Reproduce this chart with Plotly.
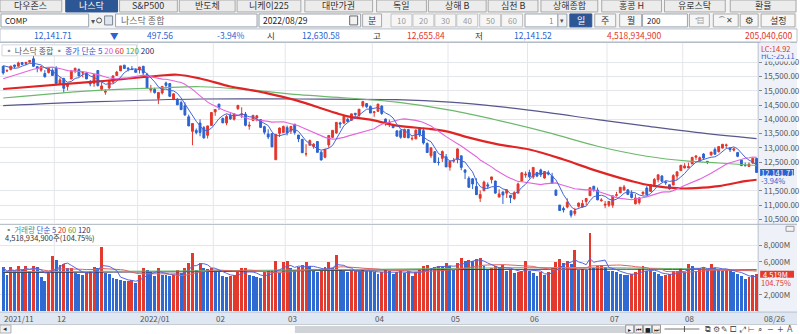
import numpy as np
import pandas as pd
import plotly.graph_objects as go

# ---------------- data ----------------
holidays = ["2021-11-25", "2021-12-24", "2022-01-17", "2022-02-21",
            "2022-04-15", "2022-05-30", "2022-06-20", "2022-07-04"]
sessions = pd.bdate_range("2021-11-10", "2022-08-26")
sessions = sessions[~sessions.isin(pd.to_datetime(holidays))]

open_ = [15856, 15693, 15740, 15900, 15860, 15990, 15954, 16003, 16119, 15844, 15719, 15601, 15636, 15717,
         15797, 15236, 15426, 15150, 15413, 15706, 15746, 15623, 15612, 15297, 15260, 15710, 15050, 14950,
         15100, 15303, 15536, 15696, 15896, 15795, 15759, 15734,
         15733, 15857, 15571, 15024, 15053, 14731, 14922, 15276, 15253, 14711, 14703, 14588, 14474, 14089,
         13579, 13611, 13871, 13711, 13440, 13787,
         14259, 14535, 14033, 13872, 14134, 14003, 14369, 14150, 14186, 13763, 13961, 14049, 13993, 13745,
         13488, 13498, 12587, 13509, 13536,
         13710, 13589, 13832, 13451, 13299, 12790, 13092, 13051, 13224, 12850, 12674, 13104, 13369, 13525,
         13876, 13866, 14002, 13965, 14213, 14134, 14469, 14552, 14451,
         14242, 14281, 14465, 14011, 13866, 13809, 13597, 13605, 13368, 13647, 13319, 13319, 13705, 13605,
         13156, 12724, 12869, 12495, 12634, 12688,
         12326, 12536, 12587, 12724, 12231, 11936, 11920, 11651, 11241, 11501, 11708, 11890, 11840, 11280,
         11461, 11416, 11335, 11225, 11418, 11841, 12053,
         12137, 11983, 12137, 12231, 11947, 12132, 12008, 11522, 11000, 10882, 10932, 10798, 10706, 10955,
         10928, 11127, 11328, 11661, 11524, 11151, 10997,
         10996, 10995, 11338, 11429, 11523, 11532, 11400, 11044, 11088, 11393, 11597, 11478, 11716, 11887,
         12017, 11810, 11712, 11700, 12016, 12204,
         12298, 12301, 12439, 12675, 12530, 12787, 12532, 12759, 12947, 12869, 12993, 13083, 12996, 12922,
         12842, 12573, 12382, 12353, 12467, 12630.58]
high = [15862, 15751, 15870, 15911, 16018, 16003, 16010, 16075, 16212, 15867, 15852, 15724, 15800, 15783,
        15862, 15466, 15455, 15264, 15713, 15807, 15780, 15654, 15662, 15375, 15580, 15718, 15300, 15043,
        15341, 15522, 15696, 15871, 15902, 15821, 15869, 15783,
        15833, 15872, 15626, 15208, 15105, 14954, 15156, 15319, 15273, 14906, 14749, 14659, 14596, 14165,
        13855, 13682, 14002, 13766, 13771, 14240,
        14351, 14535, 14063, 14163, 14217, 14209, 14497, 14421, 14258, 13919, 14143, 14155, 14008, 13778,
        13652, 13520, 13474, 13716, 13782,
        13784, 13760, 13832, 13451, 13316, 13131, 13294, 13169, 13240, 12906, 12955, 13439, 13620, 13894,
        13915, 14130, 14055, 14194, 14222, 14355, 14647, 14571, 14483,
        14278, 14546, 14487, 14030, 13990, 13841, 13613, 13642, 13678, 13653, 13410, 13653, 13711, 13710,
        13191, 13009, 12894, 12667, 12912, 12787,
        12541, 12650, 12979, 12724, 12251, 12005, 11945, 11937, 11514, 11856, 11795, 11984, 11854, 11551,
        11474, 11546, 11336, 11485, 11784, 12131, 12178,
        12238, 12317, 12162, 12273, 12188, 12209, 12128, 11549, 11000, 10947, 11236, 10811, 10905, 11086,
        11181, 11240, 11608, 11662, 11612, 11241, 11140,
        11135, 11322, 11462, 11637, 11706, 11557, 11517, 11382, 11280, 11470, 11664, 11717, 11943, 12060,
        12046, 11837, 11712, 12081, 12171, 12408,
        12466, 12485, 12687, 12734, 12699, 12817, 12540, 12855, 13018, 13047, 13129, 13151, 13025, 13003,
        12843, 12573, 12489, 12491, 12640, 12655.84]
low = [15564, 15666, 15717, 15781, 15853, 15914, 15887, 15992, 15849, 15646, 15662, 15460, 15605, 15533,
       15254, 15209, 14931, 15013, 15405, 15620, 15510, 15470, 15412, 15157, 15139, 15150, 15003, 14861,
       15056, 15268, 15529, 15696, 15765, 15679, 15741, 15644,
       15602, 15471, 15100, 14936, 14901, 14530, 14869, 15114, 14787, 14672, 14501, 14330, 14126, 13766,
       13094, 13474, 13406, 13322, 13330, 13786,
       14122, 14322, 13864, 13792, 13980, 13957, 14335, 14042, 13757, 13637, 13938, 13932, 13709, 13470,
       13305, 13025, 12587, 13381, 13524,
       13438, 13489, 13465, 13203, 12830, 12702, 13086, 12970, 12843, 12555, 12637, 13005, 13342, 13497,
       13692, 13856, 13914, 13952, 14019, 14082, 14410, 14402, 14219,
       14089, 14267, 14158, 13778, 13728, 13689, 13404, 13320, 13343, 13351, 13256, 13300, 13386, 13120,
       12830, 12643, 12485, 12386, 12507, 12331,
       12203, 12478, 12461, 12221, 11909, 11602, 11560, 11359, 11108, 11490, 11562, 11756, 11395, 11269,
       11035, 11249, 11071, 11186, 11411, 11836, 11956,
       11933, 11914, 11976, 11981, 11927, 12039, 11754, 11329, 10792, 10741, 10886, 10565, 10627, 10910,
       10910, 10996, 11328, 11469, 11171, 11120, 10889,
       10936, 10906, 11294, 11414, 11518, 11348, 11232, 11023, 11018, 11335, 11341, 11460, 11685, 11793,
       11799, 11705, 11541, 11700, 11877, 12204,
       12286, 12294, 12438, 12582, 12514, 12579, 12433, 12722, 12764, 12837, 12981, 12990, 12857, 12875,
       12675, 12361, 12352, 12336, 12445, 12141.52]
close = [15623, 15704, 15861, 15854, 15974, 15922, 15994, 16057, 15855, 15775, 15845, 15492, 15783, 15538,
         15254, 15381, 15085, 15225, 15687, 15787, 15517, 15631, 15413, 15238, 15566, 15180, 15170, 14981,
         15341, 15522, 15653, 15871, 15782, 15766, 15742, 15645,
         15833, 15623, 15100, 15081, 14936, 14943, 15153, 15188, 14807, 14894, 14507, 14340, 14154, 13769,
         13855, 13539, 13542, 13353, 13771, 14240,
         14346, 14418, 13879, 14098, 14016, 14194, 14490, 14186, 13791, 13791, 14140, 14124, 13717, 13548,
         13382, 13037, 13474, 13695, 13751,
         13532, 13752, 13538, 13313, 12831, 12796, 13256, 13130, 12844, 12581, 12949, 13437, 13615, 13894,
         13838, 14109, 13923, 14192, 14169, 14355, 14620, 14442, 14221,
         14262, 14533, 14204, 13889, 13897, 13711, 13412, 13372, 13644, 13351, 13332, 13620, 13453, 13175,
         12839, 13005, 12491, 12489, 12872, 12335,
         12536, 12564, 12965, 12318, 12145, 11623, 11738, 11364, 11371, 11805, 11663, 11985, 11418, 11389,
         11355, 11535, 11264, 11435, 11741, 12131, 12081,
         11994, 12317, 12013, 12061, 12175, 12086, 11754, 11340, 10809, 10828, 11099, 10646, 10798, 11069,
         11053, 11232, 11608, 11525, 11182, 11178, 11029,
         11128, 11322, 11362, 11621, 11635, 11373, 11265, 11248, 11251, 11452, 11360, 11713, 11898, 12060,
         11834, 11783, 11563, 12032, 12163, 12391,
         12369, 12349, 12668, 12721, 12658, 12644, 12494, 12855, 12780, 13047, 13128, 13103, 12938, 12965,
         12705, 12382, 12381, 12432, 12639, 12141.71]
# closes of the 20 sessions before the first bar (for the short averages)
prior_close = [14572, 14823, 14897, 15022, 15129, 15122, 15216, 15090, 15227, 15236,
               15236, 15448, 15498, 15596, 15650, 15812, 15940, 15972, 15982, 15887]

# volume, millions of shares
volume = [5300, 4400, 5300, 4800, 5400, 5000, 5400, 4800, 5500, 5300, 4100, 3600, 4700, 6600,
          6200, 5560, 5640, 5160, 5240, 4560, 4480, 4360, 4760, 4880, 5280, 5160, 7680, 4560, 4500, 4040,
          3880, 3760, 3680, 3700, 3760, 3360,
          4400, 5200, 5000, 4700, 4200, 5200, 4400, 4350, 4300, 4400, 5000, 4600, 5200, 5800, 7000, 5000,
          5800, 5200, 5100, 5200,
          4760, 4680, 4280, 4120, 4280, 4360, 4760, 5160, 5200, 4360, 4300, 4080, 4040, 4760, 4840, 4880,
          6080, 4560, 5880,
          6040, 5160, 4960, 5300, 5600, 5900, 5500, 4900, 4700, 5100, 5300, 5900, 5200, 6800, 5000, 4900,
          4700, 4800, 4900, 4800, 5000, 4900, 4800,
          4700, 4500, 4700, 5000, 4800, 4500, 4700, 4900, 4600, 4800, 4300, 4700, 5000, 5400, 5600, 5200,
          5300, 5500, 5400, 5800,
          5500, 5100, 5800, 6400, 6100, 6200, 6000, 6300, 6400, 5500, 5000, 5200, 5400, 5300, 5600, 4800,
          5000, 4600, 4700, 4800, 6100,
          4800, 4600, 4200, 4700, 4400, 4700, 5200, 5900, 6300, 5800, 6000, 5700, 7400, 5000, 5100, 5000,
          9400, 5200, 5500, 5600, 5300,
          4900, 4800, 4700, 4500, 4400, 4400, 4500, 4700, 5100, 5400, 4800, 4900, 4700, 4500, 4300, 4400,
          4500, 4800, 4900, 5200,
          4700, 5700, 5500, 4900, 5200, 5300, 5000, 5700, 5200, 5000, 4800, 5000, 5000, 4700, 4500, 4300,
          3900, 4100, 4314, 4519]
prior_volume = 5600

# long averages as (session index, value)
ma60_pts = [(0, 15061), (25, 15326), (41, 15525), (46, 15560), (52, 15430), (60, 15151), (65, 15036),
            (69, 14932), (77, 14680), (91, 14105), (97, 13990), (104, 13780), (113, 13660), (118, 13554),
            (122, 13396), (131, 13117), (139, 12943), (148, 12594), (157, 12186), (166, 11837),
            (171, 11687), (179, 11582), (183, 11592), (189, 11662), (196, 11837), (199, 11886)]
ma120_pts = [(0, 14747), (25, 15012), (41, 15096), (52, 15141), (65, 15036), (78, 14862), (91, 14747),
             (104, 14600), (118, 14321), (131, 13955), (144, 13536), (157, 13058), (170, 12709),
             (181, 12535), (189, 12472), (199, 12385)]
ma200_pts = [(0, 14478), (25, 14618), (52, 14712), (78, 14712), (104, 14687), (118, 14600), (131, 14443),
             (144, 14234), (157, 13990), (170, 13763), (183, 13546), (199, 13327)]
vma60_pts = [(0, 4800), (50, 4900), (100, 5100), (150, 5300), (199, 5000)]
vma120_pts = [(0, 4700), (50, 4800), (100, 5000), (150, 5100), (199, 5050)]

month_labels = ["2021/11", "12", "2022/01", "02", "03", "04", "05", "06", "07", "08"]
price_ticks = [10500, 11000, 11500, 12500, 13000, 13500, 14000, 14500, 15000, 15500, 16000]
vol_ticks = [2000, 6000, 8000]

# ---------------- styling ----------------
W, H = 800, 334
FONT = "Noto Sans CJK KR"
RED, BLUE = "#e2372c", "#2c63cf"
VRED, VBLUE = "#e43a2e", "#2f6ad2"
AXIS_BG = "#eef1f7"


def px(x):
    return x / W


def py(y):
    return 1 - y / H


shapes, annots = [], []


def rect(x0, y0, x1, y1, fill, line=None, lw=1, layer="below"):
    shapes.append(dict(type="rect", xref="paper", yref="paper", x0=px(x0), x1=px(x1),
                       y0=py(y1), y1=py(y0), fillcolor=fill, layer=layer,
                       line=dict(color=line if line else fill, width=lw if line else 0)))


def hline(x0, x1, y, color, w=1, layer="below"):
    shapes.append(dict(type="line", xref="paper", yref="paper", x0=px(x0), x1=px(x1),
                       y0=py(y), y1=py(y), line=dict(color=color, width=w), layer=layer))


def vline(x, y0, y1, color, w=1, layer="below"):
    shapes.append(dict(type="line", xref="paper", yref="paper", x0=px(x), x1=px(x),
                       y0=py(y0), y1=py(y1), line=dict(color=color, width=w), layer=layer))


def text(s, x, y, color="#333333", size=9, anchor="center", family=FONT, bg=None):
    a = dict(text=s, x=px(x), y=py(y), xref="paper", yref="paper", xanchor=anchor,
             yanchor="middle", showarrow=False, borderpad=0,
             font=dict(color=color, size=size, family=family))
    if bg:
        a["bgcolor"] = bg
    annots.append(a)


# ---------------- derived series ----------------
n = len(close)
idx = np.arange(n)
full_close = pd.Series(prior_close + close, dtype=float)
ma5 = full_close.rolling(5).mean().to_numpy()[len(prior_close):]
ma20 = full_close.rolling(20).mean().to_numpy()[len(prior_close):]
vol = pd.Series(volume, dtype=float)
vma5 = vol.rolling(5, min_periods=1).mean()
vma20 = vol.rolling(20, min_periods=1).mean()
prev_vol = [prior_volume] + volume[:-1]
vcolors = [VRED if v > p else VBLUE for v, p in zip(volume, prev_vol)]

month_start = [i for i in range(n) if i == 0 or sessions[i].month != sessions[i - 1].month]

# ---------------- frame / toolbar ----------------
rect(0, 0, 800, 42, "#f3f3f3")
tabs = [("다우존스", 0, 62), ("나스닥", 66, 118), ("S&P500", 120, 178), ("반도체", 180, 236),
        ("니케이225", 238, 302), ("대만가권", 306, 374), ("독일", 378, 428), ("상해 B", 430, 488),
        ("심천 B", 490, 540), ("상해종합", 543, 600), ("홍콩 H", 604, 664), ("유로스탁", 667, 728),
        ("환율", 733, 799)]
for name, a, b in tabs:
    sel = name == "나스닥"
    rect(a, 0, b, 12, "#2d5695" if sel else "#ececec", "#2d5695" if sel else "#a9a9a9")
    text(name, (a + b) / 2, 6, "#ffffff" if sel else "#333333", 9)

# second row controls
rect(1, 14, 89, 27, "#ffffff", "#9aa3ae")
text("COMP", 4, 20.5, "#222222", 8, "left")
text("▾", 93, 20.5, "#555555", 8)
shapes.append(dict(type="circle", xref="paper", yref="paper", x0=px(97), x1=px(102), y0=py(23), y1=py(18),
                   line=dict(color="#555555", width=1)))
rect(105, 16, 113, 25, "#dfe6f0", "#7d8794")
rect(116, 14, 258, 27, "#ffffff", "#9aa3ae")
text("나스닥 종합", 120, 20.5, "#666666", 9, "left")
rect(260, 14, 362, 27, "#ffffff", "#9aa3ae")
text("2022/08/29", 263, 20.5, "#222222", 8.5, "left")
rect(351, 16, 359, 25, "#f2f2f2", "#666666")
rect(364, 14, 383, 27, "#f6f6f6", "#a9a9a9")
text("분", 373.5, 20.5, "#333333", 9)
for lab, c in zip(["10", "20", "30", "40", "50", "60"], [403, 425, 447, 469, 492, 514]):
    rect(c - 10.5, 14, c + 10.5, 27, "#f6f6f6", "#c3c3c3")
    text(lab, c, 20.5, "#9a9a9a", 8)
rect(527, 14, 560, 27, "#ffffff", "#9aa3ae")
text("1", 556, 20.5, "#888888", 8, "right")
rect(560, 14, 569, 27, "#f2f2f2", "#9aa3ae")
text("▾", 564.5, 20.5, "#555555", 7)
rect(572, 14, 594, 27, "#2d5695", "#2d5695")
text("일", 583, 20.5, "#ffffff", 9)
for lab, a, b in [("주", 597, 618), ("월", 622, 644)]:
    rect(a, 14, b, 27, "#f6f6f6", "#a9a9a9")
    text(lab, (a + b) / 2, 20.5, "#333333", 9)
rect(645, 14, 690, 27, "#ffffff", "#9aa3ae")
text("200", 648, 20.5, "#222222", 8, "left")
rect(692, 14, 712, 27, "#f6f6f6", "#a9a9a9")
text("⁺▤", 702, 20.5, "#444444", 7)
rect(716, 14, 741, 27, "#f6f6f6", "#a9a9a9")
text("⌒✕", 728.5, 20.5, "#444444", 8, family="DejaVu Sans")
rect(743, 14, 761, 27, "#f6f6f6", "#a9a9a9")
text("⚙", 752, 20.5, "#444444", 10, family="DejaVu Sans")
rect(764, 14, 798, 27, "#f6f6f6", "#a9a9a9")
text("설정", 781, 20.5, "#333333", 9)

# quote row
rect(0, 29, 800, 42, "#ffffff", "#b9c2cf")
quote = [("12,141.71", 53, BLUE), ("▼", 115, BLUE), ("497.56", 161, BLUE), ("-3.94%", 231, BLUE),
         ("시", 272, "#333333"), ("12,630.58", 322, BLUE), ("고", 378, "#333333"),
         ("12,655.84", 428, RED), ("저", 481, "#333333"), ("12,141.52", 535, BLUE),
         ("4,518,934,900", 637, RED), ("205,040,600", 771, RED)]
for s, x, c in quote:
    text(s, x, 35.5, c, 8.5)

# chart frame
rect(0, 42, 800, 313, "#ffffff")
rect(761, 42, 800, 313, AXIS_BG)
vline(761, 42, 313, "#b8c0cc")
hline(0, 800, 42.5, "#aab3c0")
hline(0, 800, 225, "#aab3c0")

# date band and scroll bar
rect(0, 313, 800, 325, "#dfe7f2")
hline(0, 800, 313, "#b8c0cc")
for i, lab in zip(month_start, month_labels):
    text(lab, 1.3 + 3.8 * i + 1.5, 319, "#555555", 8, "left")
text("08/26", 766, 319, "#555555", 8, "left")
rect(0, 325, 800, 334, "#ffffff")
hline(0, 800, 325.5, "#c7ccd3")
rect(0, 326, 11, 334, "#f0f0f0", "#b0b0b0")
text("◂", 5.5, 330, "#333333", 7, family="DejaVu Sans")
rect(296, 327, 628, 334, "#cfd2d6")
ctrl = [("▸", 632), ("⏮", 641), ("■", 650), ("⏭", 659)]
for s, x in ctrl:
    rect(x - 4, 326, x + 4, 334, "#f4f4f4", "#9a9a9a")
    text(s, x, 330, "#222222", 6, family="DejaVu Sans")
hline(667, 702, 330, "#777777")
vline(687, 327, 333, "#555555")
for s, x in [("⧉", 711), ("⚙", 719), ("✎", 727), ("⧠", 736), ("⤢", 745), ("⊢", 754), ("⌕", 763),
             ("−", 773), ("+", 783), ("A", 793)]:
    text(s, x, 330, "#555555", 8, family="DejaVu Sans")

# month grid
for i in month_start[1:]:
    xg = 1.3 + 3.8 * i
    vline(xg, 43, 224, "#e3e6eb")
    vline(xg, 226, 313, "#e3e6eb")

# panel captions
rect(2, 45, 137, 56, "#ffffff", "#d0d4da")
text("▪ <span style='color:#555'>나스닥 종합</span> ▪ <span style='color:#3653c9'>종가 단순 5</span> "
     "<span style='color:#e253d8'>20</span> <span style='color:#e02a2a'>60</span> "
     "<span style='color:#4aa64a'>120</span> <span style='color:#2a2a66'>200</span>",
     4, 50.5, "#888888", 8, "left")
text("▪ <span style='color:#2aa0a0'>거래량</span> <span style='color:#3653c9'>단순 5</span> "
     "<span style='color:#e02a2a'>20</span> <span style='color:#4aa64a'>60</span> "
     "<span style='color:#2a2a66'>120</span>", 4, 230, "#888888", 7.5, "left")
text("4,518,934,900주(104.75%)", 4, 238.5, "#333333", 7.5, "left")

# right side tags (HC drawn first so that LC stays on top)
text("HC:-25.11", 763, 55.5, "#3060d0", 7.5, "left", bg=AXIS_BG)
text("LC:14.92", 763, 49, "#e03030", 7.5, "left", bg=AXIS_BG)
rect(763, 169.5, 797, 176.5, "#2c63cf", layer="above")
text("12,141.71", 780, 173, "#ffffff", 7.5)
text("-3.94%", 763, 181, "#2c63cf", 7.5, "left")
rect(763, 271.5, 797, 278.5, "#e43a2e", layer="above")
text("4,519M", 765, 275, "#ffffff", 7.5, "left")
text("104.75%", 763, 283, "#e43a2e", 7.5, "left")
rect(789, 227, 797, 232, "#f4f4f4", "#999999")

# ---------------- traces ----------------
fig = go.Figure()
fig.add_trace(go.Candlestick(
    x=idx, open=open_, high=high, low=low, close=close, whiskerwidth=0,
    increasing=dict(line=dict(color=RED, width=1), fillcolor=RED),
    decreasing=dict(line=dict(color=BLUE, width=1), fillcolor=BLUE),
    xaxis="x", yaxis="y", hoverinfo="skip"))


def line_trace(xs, ys, color, width, axis, shape="linear"):
    fig.add_trace(go.Scatter(x=xs, y=ys, mode="lines", line=dict(color=color, width=width, shape=shape),
                             xaxis="x" if axis == 1 else "x2", yaxis="y" if axis == 1 else "y2",
                             hoverinfo="skip"))


line_trace([p[0] for p in ma200_pts], [p[1] for p in ma200_pts], "#57578c", 1.2, 1, "spline")
line_trace([p[0] for p in ma120_pts], [p[1] for p in ma120_pts], "#6cb86c", 1.2, 1, "spline")
line_trace([p[0] for p in ma60_pts], [p[1] for p in ma60_pts], "#e02424", 2.2, 1, "spline")
line_trace(idx, ma20, "#e366dc", 1.1, 1)
line_trace(idx, ma5, "#4565d6", 1.0, 1)

fig.add_trace(go.Bar(x=idx, y=volume, marker=dict(color=vcolors, line=dict(width=0)), width=0.78,
                     xaxis="x2", yaxis="y2", hoverinfo="skip"))
line_trace([p[0] for p in vma120_pts], [p[1] for p in vma120_pts], "#3a3a55", 1.0, 2, "spline")
line_trace([p[0] for p in vma60_pts], [p[1] for p in vma60_pts], "#6cb86c", 1.0, 2, "spline")
line_trace(idx, vma20, "#e06060", 1.0, 2)
line_trace(idx, vma5, "#5565e0", 1.0, 2)

x_range = [(0 - 3.2) / 3.8, (761 - 3.2) / 3.8]
price_dom = [py(224), py(43)]
vol_dom = [py(312.5), py(226)]
p_lo = 14000 - (224 - 119.7) / 0.02866
p_hi = 14000 + (119.7 - 43) / 0.02866
v_hi = (312.5 - 226) / 8.333 * 1000

fig.update_layout(
    width=W, height=H, margin=dict(l=0, r=0, t=0, b=0), showlegend=False,
    paper_bgcolor="#ffffff", plot_bgcolor="rgba(0,0,0,0)", bargap=0,
    font=dict(family=FONT, size=8, color="#444444"),
    xaxis=dict(domain=[0, px(761)], range=x_range, showgrid=False, zeroline=False, showticklabels=False,
               rangeslider=dict(visible=False), fixedrange=True, anchor="y"),
    yaxis=dict(domain=price_dom, range=[p_lo, p_hi], side="right", tickvals=price_ticks,
               ticktext=[f"{v:,.2f}" for v in price_ticks], ticks="outside", ticklen=3,
               tickcolor="#888888", tickfont=dict(size=8, color="#555555", family=FONT),
               showgrid=True, gridcolor="#e3e6eb", gridwidth=1, zeroline=False, anchor="x"),
    xaxis2=dict(domain=[0, px(761)], range=x_range, showgrid=False, zeroline=False, showticklabels=False,
                fixedrange=True, anchor="y2"),
    yaxis2=dict(domain=vol_dom, range=[0, v_hi], side="right", tickvals=vol_ticks,
                ticktext=[f"{v:,}M" for v in vol_ticks], ticks="outside", ticklen=3,
                tickcolor="#888888", tickfont=dict(size=8, color="#555555", family=FONT),
                showgrid=True, gridcolor="#e3e6eb", zeroline=False, anchor="x2"),
    shapes=shapes, annotations=annots,
)

fig.write_html("out.html")
